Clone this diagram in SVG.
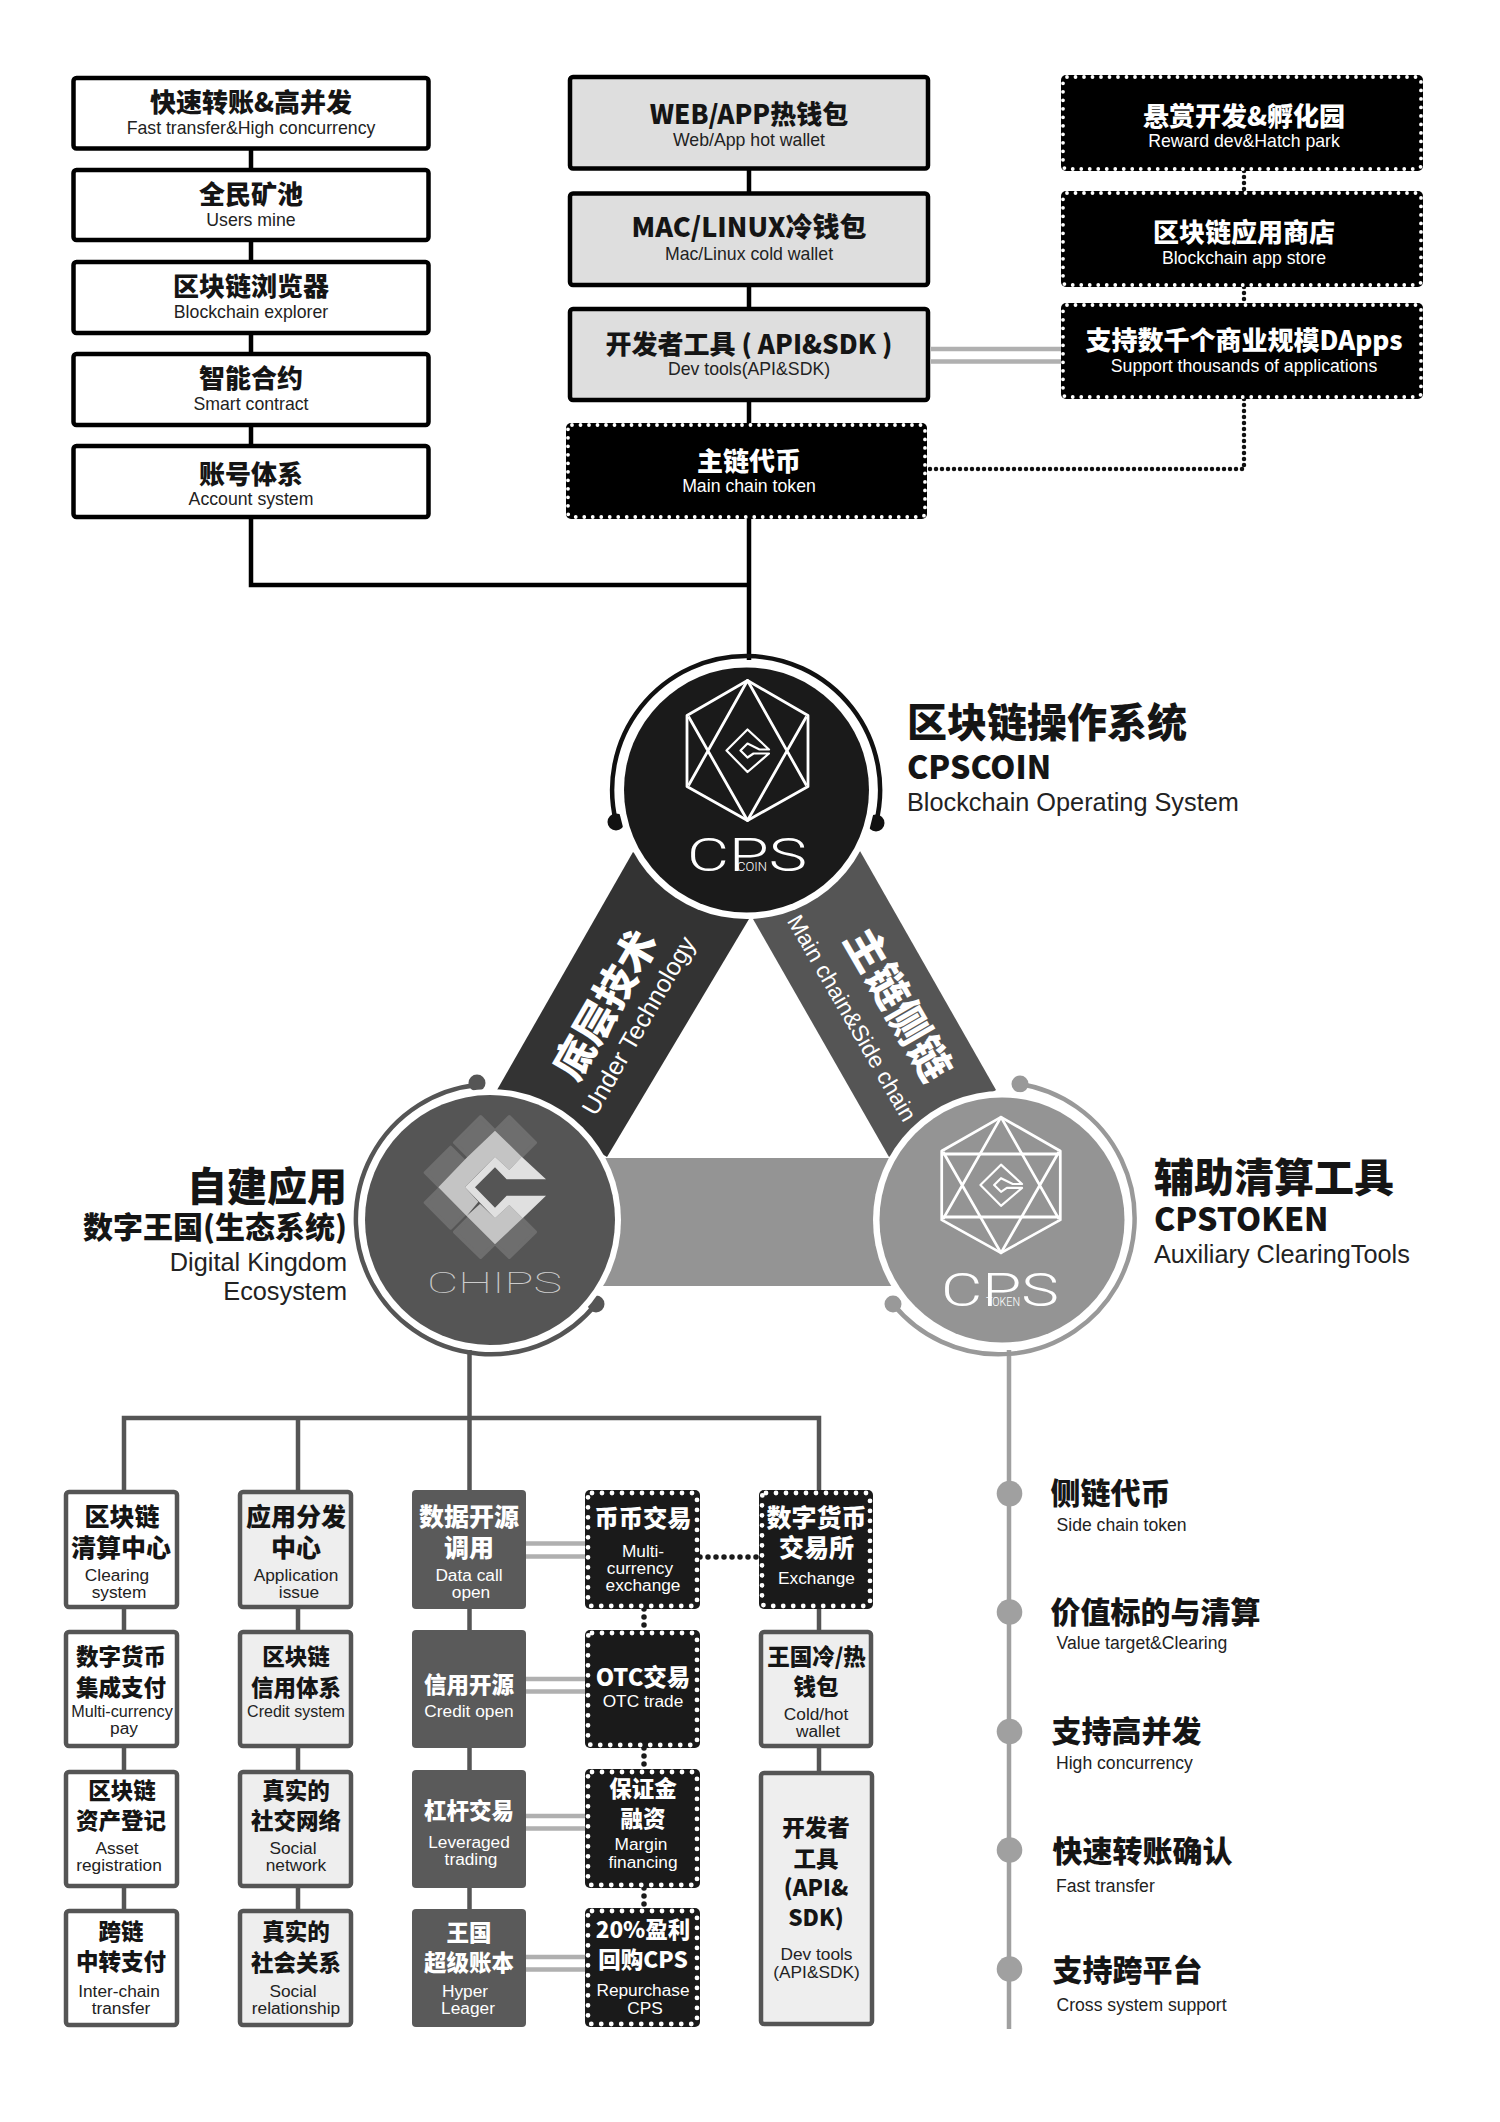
<svg xmlns="http://www.w3.org/2000/svg" width="1500" height="2122" viewBox="0 0 1500 2122">
<style>
text{font-family:"Liberation Sans",Arial,sans-serif}
.t,.h,.hl{font-family:"Noto Sans CJK SC","Liberation Sans",sans-serif;font-weight:900}
.t,.s,.c,.d,.e{text-anchor:middle}
.t{font-size:26px;fill:#151515}
.c,.d{font-family:"Noto Sans CJK SC","Liberation Sans",sans-serif;font-weight:900;font-size:25px;fill:#151515}
.d{font-size:22.500px}
.s{font-size:17.700px;fill:#222}
.e{font-size:17.300px;fill:#222}
.w{fill:#fff}
.hl{fill:#151515;font-size:40px}
.l{fill:#222;font-size:25.300px}
.i{fill:#151515;font-size:30px;font-family:"Noto Sans CJK SC","Liberation Sans",sans-serif;font-weight:900}
.j{fill:#222;font-size:17.600px}
.logo{font-family:Roboto,"Liberation Sans",sans-serif;font-weight:300;fill:#fff}
.wb{fill:#fff;stroke:#000;stroke-width:4.500}
.gb{fill:#dedede;stroke:#000;stroke-width:4.500}
.db{fill:#000}
.ds{fill:none;stroke:#fff;stroke-width:3.800;stroke-linecap:round;stroke-dasharray:0 8.500}
.kb{fill:#1a1a1a}
.ks{fill:none;stroke:#fff;stroke-width:4.800;stroke-linecap:round;stroke-dasharray:0 10}
.cb{fill:#fff;stroke:#555;stroke-width:4.500}
.lb{fill:#eee;stroke:#555;stroke-width:4.500}
.mb{fill:#5a5a5a}
.k{fill:none;stroke:#000;stroke-width:4.500}
.g{fill:none;stroke:#555;stroke-width:4.500}
.y{fill:none;stroke:#a0a0a0;stroke-width:4.500}
.dbl{fill:none;stroke:#b0b0b0;stroke-width:4.500}
.dot{fill:none;stroke:#111;stroke-width:4.500;stroke-linecap:round;stroke-dasharray:0 6}
.dot2{fill:none;stroke:#1a1a1a;stroke-width:5.500;stroke-linecap:round;stroke-dasharray:0 8}
.hex{fill:none;stroke:#fff;stroke-width:2.800;stroke-linejoin:round}
</style>
<defs>
<g id="hexmark" class="hex">
<path d="M0-70 60.500-35V36L0 70-60.500 36V-35Z"/>
<path d="M-59 35 0-70 59 35M-59-34 0 70 59-34"/>
<path stroke-width="2.200" d="M21.500 3 0 21.500-21 0 0-21 21.500-1H12L0-7-7 0 0 7 6 3Z"/>
</g>
</defs>

<g id="connectors">
<path class="k" d="M251 150V168M251 242V260M251 335V352M251 427V444M251 519V585H749"/>
<path class="k" d="M749 170V192M749 287V307M749 402V423M749 519V660"/>
<path class="dbl" d="M931 349H1061M931 361.500H1061"/>
<path class="dot" d="M1244 171V191M1244 287V303M1244 399V469H927"/>
<path class="g" d="M469.500 1350V1490M124 1490V1418H819V1490"/>
<path class="g" d="M298 1418V1490"/>
<path class="g" d="M124 1609V1630M124 1748V1770M124 1888V1909"/>
<path class="g" d="M298 1609V1630M298 1748V1770M298 1888V1909"/>
<path class="g" d="M469.500 1609V1630M469.500 1748V1770M469.500 1888V1909"/>
<path class="g" d="M819 1609V1630M819 1748V1771"/>
<path class="dbl" d="M526 1543.600H586M526 1556.600H586M526 1679H586M526 1691.600H586M526 1816H586M526 1828.500H586M526 1957H586M526 1969.500H586"/>
<path class="dot2" d="M644 1609V1630M644 1748V1769M644 1888V1908M700 1557H759"/>
<path class="y" d="M1009 1350V2029"/>
</g>

<g id="bands">
<polygon fill="#333" points="633,852 749,919 607,1157 497,1090"/>
<polygon fill="#555" points="860,851 753,919 889,1157 996,1090"/>
<rect x="600" y="1158" width="296" height="128" fill="#949494"/>
<text class="c w" style="font-size:41px" transform="translate(606 1005) rotate(-60)" y="14">底层技术</text>
<text class="e w" style="font-size:25px" transform="translate(639 1026) rotate(-60)" y="8">Under Technology</text>
<text class="c w" style="font-size:42px" transform="translate(897 1005) rotate(60)" y="14">主链侧链</text>
<text class="e w" style="font-size:23px" transform="translate(852 1018) rotate(60)" y="8">Main chain&amp;Side chain</text>
</g>

<g id="cpscoin">
<path d="M616 822A134 134 0 1 1 876 823" fill="none" stroke="#111" stroke-width="4.500"/>
<circle cx="616" cy="822" r="8.500" fill="#111"/><circle cx="876" cy="823" r="8.500" fill="#111"/>
<circle cx="746.500" cy="790" r="129" fill="#fff"/>
<circle cx="746.500" cy="790" r="122.500" fill="#1a1a1a"/>
<use href="#hexmark" transform="translate(747.500 750.500)"/>
<text class="logo" x="687" y="871" font-size="46" textLength="120" lengthAdjust="spacingAndGlyphs">CPS</text>
<text class="logo" x="737" y="871" font-size="12" textLength="30" lengthAdjust="spacingAndGlyphs">COIN</text>
<text class="hl" x="907" y="737">区块链操作系统</text>
<text class="hl" x="907" y="779" style="font-size:32px">CPSCOIN</text>
<text class="l" x="907" y="811">Blockchain Operating System</text>
</g>

<g id="chips">
<path d="M477 1085A135 135 0 1 0 596 1304" fill="none" stroke="#555" stroke-width="4.500"/>
<circle cx="477" cy="1083" r="8.500" fill="#555"/><circle cx="596" cy="1304" r="8.500" fill="#555"/>
<circle cx="490" cy="1220" r="131" fill="#fff"/>
<circle cx="490" cy="1220" r="125" fill="#555"/>
<g transform="translate(410 1110) scale(.3333)">
<g fill="#6e6e6e" stroke="#6e6e6e" stroke-width="10" stroke-linejoin="round">
<path d="M212 20 290 98 212 176 134 98ZM298 20 376 98 298 176 220 98ZM122 112 198 188 122 264 46 188ZM122 202 198 278 122 354 46 278ZM212 288 290 366 212 442 134 366ZM298 288 376 366 298 442 220 366Z"/>
</g>
<path fill="#c4c4c4" d="M255 62 335 140 298 180 255 140 210 185 170 143ZM170 143 210 185 165 232 205 275 170 318 85 232ZM170 318 210 282 255 325 298 285 338 325 255 403Z"/>
<path fill="#e0e0e0" d="M335 140 408 208H290L255 172 195 232 255 293 290 257H408L338 325 298 285 255 325 165 232 255 140 298 180Z"/>
</g>
<text class="logo" x="427" y="1293" font-size="29" textLength="135" lengthAdjust="spacingAndGlyphs" style="fill:#ccc;font-weight:100">CHIPS</text>
<text class="hl" x="347" y="1201" text-anchor="end">自建应用</text>
<text class="hl" x="347" y="1238" text-anchor="end" style="font-size:30px">数字王国(生态系统)</text>
<text class="l" x="347" y="1271" text-anchor="end">Digital Kingdom</text>
<text class="l" x="347" y="1300" text-anchor="end">Ecosystem</text>
</g>

<g id="cpstoken">
<path d="M1020 1084A136 136 0 1 1 893 1304" fill="none" stroke="#999" stroke-width="4.500"/>
<circle cx="1020" cy="1084" r="8.500" fill="#999"/><circle cx="893" cy="1304" r="8.500" fill="#999"/>
<circle cx="1002" cy="1220" r="129" fill="#fff"/>
<circle cx="1002" cy="1220" r="122.500" fill="#949494"/>
<use href="#hexmark" transform="translate(1001 1185) scale(.98 .97)"/>
<path class="hex" d="M943 1154H1059M943 1217H1059"/>
<text class="logo" x="941" y="1306" font-size="46" textLength="118" lengthAdjust="spacingAndGlyphs">CPS</text>
<text class="logo" x="986" y="1306" font-size="12" textLength="34" lengthAdjust="spacingAndGlyphs">TOKEN</text>
<text class="hl" x="1154" y="1192">辅助清算工具</text>
<text class="hl" x="1154" y="1231" style="font-size:32px">CPSTOKEN</text>
<text class="l" x="1154" y="1263">Auxiliary ClearingTools</text>
</g>

<g id="n-fast"><rect class="wb" x="73.500" y="78" width="355" height="70.500" rx="3"/><text class="t" x="251" y="111.500">快速转账&amp;高并发</text><text class="s" x="251" y="134">Fast transfer&amp;High concurrency</text></g>
<g id="n-mine"><rect class="wb" x="73.500" y="170" width="355" height="70" rx="3"/><text class="t" x="251" y="203.500">全民矿池</text><text class="s" x="251" y="225.500">Users mine</text></g>
<g id="n-explorer"><rect class="wb" x="73.500" y="262" width="355" height="71" rx="3"/><text class="t" x="251" y="296">区块链浏览器</text><text class="s" x="251" y="318">Blockchain explorer</text></g>
<g id="n-smart"><rect class="wb" x="73.500" y="354" width="355" height="71" rx="3"/><text class="t" x="251" y="388">智能合约</text><text class="s" x="251" y="410">Smart contract</text></g>
<g id="n-account"><rect class="wb" x="73.500" y="446" width="355" height="71" rx="3"/><text class="t" x="251" y="483.500">账号体系</text><text class="s" x="251" y="505">Account system</text></g>

<g id="n-web"><rect class="gb" x="570" y="77" width="358" height="91.500" rx="3"/><text class="t" x="749" y="123.500">WEB/APP热钱包</text><text class="s" x="749" y="146">Web/App hot wallet</text></g>
<g id="n-mac"><rect class="gb" x="570" y="193.500" width="358" height="91.500" rx="3"/><text class="t" x="749" y="236.500" style="font-size:27px">MAC/LINUX冷钱包</text><text class="s" x="749" y="259.500">Mac/Linux cold wallet</text></g>
<g id="n-dev"><rect class="gb" x="570" y="309" width="358" height="91" rx="3"/><text class="t" x="749" y="353.500">开发者工具 ( API&amp;SDK )</text><text class="s" x="749" y="375">Dev tools(API&amp;SDK)</text></g>
<g id="n-main"><rect class="db" x="566" y="423" width="361" height="96" rx="5"/><rect class="ds" x="568" y="425" width="357" height="92" rx="4"/><text class="t w" x="749" y="470.500">主链代币</text><text class="s w" x="749" y="492">Main chain token</text></g>

<g id="n-reward"><rect class="db" x="1061" y="75" width="362" height="96" rx="5"/><rect class="ds" x="1063" y="77" width="358" height="92" rx="4"/><text class="t w" x="1244" y="125.500">悬赏开发&amp;孵化园</text><text class="s w" x="1244" y="147">Reward dev&amp;Hatch park</text></g>
<g id="n-store"><rect class="db" x="1061" y="191" width="362" height="96" rx="5"/><rect class="ds" x="1063" y="193" width="358" height="92" rx="4"/><text class="t w" x="1244" y="241.500">区块链应用商店</text><text class="s w" x="1244" y="263.500">Blockchain app store</text></g>
<g id="n-dapps"><rect class="db" x="1061" y="303" width="362" height="96" rx="5"/><rect class="ds" x="1063" y="305" width="358" height="92" rx="4"/><text class="t w" x="1244" y="349.500">支持数千个商业规模DApps</text><text class="s w" x="1244" y="372">Support thousands of applications</text></g>

<g id="n-c1-1"><rect class="cb" x="66" y="1492" width="111" height="115" rx="3"/><text class="c" x="122" y="1526">区块链</text><text class="c" x="121" y="1557">清算中心</text><text class="e" x="117" y="1581">Clearing</text><text class="e" x="119" y="1598">system</text></g>
<g id="n-c1-2"><rect class="cb" x="66" y="1632" width="111" height="114" rx="3"/><text class="d" x="121" y="1665">数字货币</text><text class="d" x="121" y="1695.500">集成支付</text><text class="e" x="122" y="1716.500" style="font-size:16.200px">Multi-currency</text><text class="e" x="124" y="1734">pay</text></g>
<g id="n-c1-3"><rect class="cb" x="66" y="1772" width="111" height="114" rx="3"/><text class="d" x="122" y="1799">区块链</text><text class="d" x="121" y="1829">资产登记</text><text class="e" x="117" y="1853.700">Asset</text><text class="e" x="119" y="1871.400">registration</text></g>
<g id="n-c1-4"><rect class="cb" x="66" y="1911" width="111" height="114" rx="3"/><text class="d" x="121" y="1939.500">跨链</text><text class="d" x="121" y="1969.500">中转支付</text><text class="e" x="119" y="1997">Inter-chain</text><text class="e" x="121" y="2013.600">transfer</text></g>

<g id="n-c2-1"><rect class="lb" x="240" y="1492" width="111" height="115" rx="3"/><text class="c" x="296" y="1526">应用分发</text><text class="c" x="296" y="1557">中心</text><text class="e" x="296" y="1581">Application</text><text class="e" x="299" y="1598">issue</text></g>
<g id="n-c2-2"><rect class="lb" x="240" y="1632" width="111" height="114" rx="3"/><text class="d" x="296" y="1665">区块链</text><text class="d" x="296" y="1695.500">信用体系</text><text class="e" x="296" y="1716.500" style="font-size:16px">Credit system</text></g>
<g id="n-c2-3"><rect class="lb" x="240" y="1772" width="111" height="114" rx="3"/><text class="d" x="296" y="1799">真实的</text><text class="d" x="296" y="1829">社交网络</text><text class="e" x="293" y="1853.700">Social</text><text class="e" x="296" y="1871.400">network</text></g>
<g id="n-c2-4"><rect class="lb" x="240" y="1911" width="111" height="114" rx="3"/><text class="d" x="296" y="1940">真实的</text><text class="d" x="296" y="1970.500">社会关系</text><text class="e" x="293" y="1997">Social</text><text class="e" x="296" y="2013.600">relationship</text></g>

<g id="n-c3-1"><rect class="mb" x="412" y="1490" width="114" height="119" rx="4"/><text class="c w" x="469" y="1526">数据开源</text><text class="c w" x="469" y="1557">调用</text><text class="e w" x="469" y="1581">Data call</text><text class="e w" x="471" y="1598">open</text></g>
<g id="n-c3-2"><rect class="mb" x="412" y="1630" width="114" height="118" rx="4"/><text class="d w" x="469" y="1692.500">信用开源</text><text class="e w" x="469" y="1716.500">Credit open</text></g>
<g id="n-c3-3"><rect class="mb" x="412" y="1770" width="114" height="118" rx="4"/><text class="d w" x="469" y="1818.500">杠杆交易</text><text class="e w" x="469" y="1848">Leveraged</text><text class="e w" x="471" y="1865">trading</text></g>
<g id="n-c3-4"><rect class="mb" x="412" y="1909" width="114" height="118" rx="4"/><text class="d w" x="469" y="1940.500">王国</text><text class="d w" x="469" y="1970.500">超级账本</text><text class="e w" x="465" y="1997">Hyper</text><text class="e w" x="468" y="2013.600">Leager</text></g>

<g id="n-c4-1"><rect class="kb" x="585" y="1490" width="115" height="119" rx="5"/><rect class="ks" x="588" y="1493" width="109" height="113" rx="4"/><text class="c w" x="643" y="1526.500" style="font-size:24.300px">币币交易</text><text class="e w" x="643" y="1557">Multi-</text><text class="e w" x="640" y="1574.300">currency</text><text class="e w" x="643" y="1591">exchange</text></g>
<g id="n-c4-2"><rect class="kb" x="585" y="1630" width="115" height="118" rx="5"/><rect class="ks" x="588" y="1633" width="109" height="112" rx="4"/><text class="c w" x="643" y="1686" style="font-size:23.500px">OTC交易</text><text class="e w" x="643" y="1707">OTC trade</text></g>
<g id="n-c4-3"><rect class="kb" x="585" y="1769" width="115" height="119" rx="5"/><rect class="ks" x="588" y="1772" width="109" height="113" rx="4"/><text class="d w" x="643" y="1797">保证金</text><text class="d w" x="643" y="1827">融资</text><text class="e w" x="641" y="1850">Margin</text><text class="e w" x="643" y="1867.700">financing</text></g>
<g id="n-c4-4"><rect class="kb" x="585" y="1908" width="115" height="119" rx="5"/><rect class="ks" x="588" y="1911" width="109" height="113" rx="4"/><text class="d w" x="643" y="1938">20%盈利</text><text class="d w" x="643" y="1968">回购CPS</text><text class="e w" x="643" y="1996">Repurchase</text><text class="e w" x="645" y="2013.500">CPS</text></g>

<g id="n-c5-1"><rect class="kb" x="759" y="1490" width="114" height="119" rx="5"/><rect class="ks" x="762" y="1493" width="108" height="113" rx="4"/><text class="c w" x="816.500" y="1526.500">数字货币</text><text class="c w" x="816.500" y="1557">交易所</text><text class="e w" x="816.500" y="1584">Exchange</text></g>
<g id="n-c5-2"><rect class="lb" x="761" y="1632" width="110" height="114" rx="3"/><text class="d" x="816.500" y="1665">王国冷/热</text><text class="d" x="816" y="1695">钱包</text><text class="e" x="816" y="1719.700">Cold/hot</text><text class="e" x="818" y="1737">wallet</text></g>
<g id="n-c5-3"><rect class="lb" x="761" y="1773" width="111" height="251" rx="3"/><text class="d" x="816" y="1836">开发者</text><text class="d" x="816" y="1866.500">工具</text><text class="d" x="816" y="1896">(API&amp;</text><text class="d" x="816" y="1926">SDK)</text><text class="e" x="816.500" y="1960">Dev tools</text><text class="e" x="816.500" y="1977.600">(API&amp;SDK)</text></g>

<g id="list">
<g id="n-l1"><circle cx="1009.500" cy="1493.600" r="12.800" fill="#a0a0a0"/><text class="i" x="1050.500" y="1504">侧链代币</text><text class="j" x="1056.500" y="1531">Side chain token</text></g>
<g id="n-l2"><circle cx="1009.500" cy="1612" r="12.800" fill="#a0a0a0"/><text class="i" x="1050.500" y="1623">价值标的与清算</text><text class="j" x="1056.500" y="1649">Value target&amp;Clearing</text></g>
<g id="n-l3"><circle cx="1009.500" cy="1731.500" r="12.800" fill="#a0a0a0"/><text class="i" x="1051.500" y="1742">支持高并发</text><text class="j" x="1056" y="1769">High concurrency</text></g>
<g id="n-l4"><circle cx="1009.500" cy="1850" r="12.800" fill="#a0a0a0"/><text class="i" x="1052.500" y="1862">快速转账确认</text><text class="j" x="1056" y="1892">Fast transfer</text></g>
<g id="n-l5"><circle cx="1009.500" cy="1969" r="12.800" fill="#a0a0a0"/><text class="i" x="1052.500" y="1981">支持跨平台</text><text class="j" x="1056.500" y="2011">Cross system support</text></g>
</g>
</svg>
